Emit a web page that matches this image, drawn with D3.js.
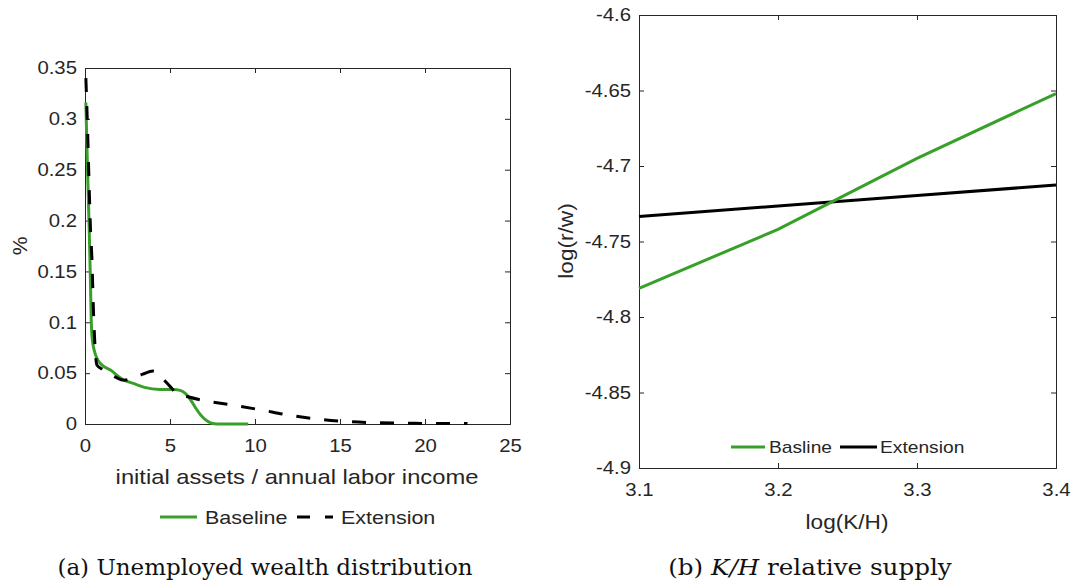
<!DOCTYPE html>
<html><head><meta charset="utf-8">
<script src="https://cdn.jsdelivr.net/npm/d3@7"></script>
<style>
body{margin:0;background:#fff;}
svg text{font-family:"Liberation Sans",Arial,sans-serif;fill:#262626;}
.cap{font-family:"DejaVu Serif","Liberation Serif",serif;fill:#111;}
</style></head>
<body><svg id="c" width="1075" height="583"></svg>
<script>
// ---------- Panel (a) data ----------
const baseX = [0.05,0.15,0.25,0.32,0.37,0.42,0.55,0.75,1.0,1.5,2.2,3.0,3.5,4.4,5.2,5.6,5.9,6.2,6.5,6.8,7.1,7.4,7.8,9.6];
const baseY = [0.316,0.25,0.19,0.14,0.10,0.085,0.072,0.063,0.058,0.053,0.044,0.039,0.036,0.034,0.034,0.033,0.030,0.024,0.016,0.009,0.004,0.001,0.0,0.0];
const extX = [0.05,0.15,0.25,0.33,0.4,0.5,0.6,0.7,1.0,1.3,1.8,2.3,2.8,3.4,4.0,4.2,4.5,5.0,5.4,6.0,7.0,8.5,10.3,11.9,13.6,15.3,17,19,20.5,22.5];
const extY = [0.340,0.29,0.23,0.188,0.165,0.11,0.073,0.058,0.054,0.051,0.046,0.043,0.045,0.049,0.052,0.051,0.046,0.037,0.030,0.027,0.023,0.019,0.014,0.009,0.005,0.0025,0.0013,0.0008,0.0005,0.0004];
const aXTicks = [0,5,10,15,20,25];
const aYTicks = [0,0.05,0.1,0.15,0.2,0.25,0.3,0.35];
// ---------- Panel (b) data ----------
const kh = [3.1,3.2,3.3,3.4];
const rwBase = [-4.781,-4.742,-4.695,-4.652];
const rwExt = [-4.7335,-4.7265,-4.7195,-4.7126];
const bXTicks = [3.1,3.2,3.3,3.4];
const bYTicks = [-4.9,-4.85,-4.8,-4.75,-4.7,-4.65,-4.6];

const GREEN = "#38a02a", AX = "#262626";
const svg = d3.select("#c");
const fmt = d => String(+d.toFixed(3));

function box(g, x, y, xt, yt){
  const [x0,x1] = x.range(), [y0,y1] = y.range();
  const tl = 5;
  const bottom = g.append("g").attr("transform",`translate(0,${y0})`)
    .call(d3.axisBottom(x).tickValues(xt).tickSize(-tl).tickPadding(15).tickFormat(fmt));
  const top = g.append("g").attr("transform",`translate(0,${y1})`)
    .call(d3.axisTop(x).tickValues(xt).tickSize(-tl).tickFormat(""));
  const left = g.append("g").attr("transform",`translate(${x0},0)`)
    .call(d3.axisLeft(y).tickValues(yt).tickSize(-tl).tickPadding(8).tickFormat(fmt));
  const right = g.append("g").attr("transform",`translate(${x1},0)`)
    .call(d3.axisRight(y).tickValues(yt).tickSize(-tl).tickFormat(""));
  [bottom,top,left,right].forEach(a=>{
    a.selectAll("path.domain").attr("stroke",AX).attr("stroke-width",1);
    a.selectAll(".tick line").attr("stroke",AX);
    a.selectAll(".tick text").attr("font-size",18).attr("fill",AX).classed("st",true)
      .style("font-family","'Liberation Sans',Arial,sans-serif");
  });
}

// ===== Panel (a) =====
const ga = svg.append("g");
const xa = d3.scaleLinear().domain([0,25]).range([85,510]);
const ya = d3.scaleLinear().domain([0,0.35]).range([424,68]);
box(ga, xa, ya, aXTicks, aYTicks);
const la = d3.line().x(d=>xa(d[0])).y(d=>ya(d[1])).curve(d3.curveMonotoneX);
ga.append("path").datum(baseX.map((v,i)=>[v,baseY[i]])).attr("d",la)
  .attr("fill","none").attr("stroke",GREEN).attr("stroke-width",3);
ga.append("path").datum(extX.map((v,i)=>[v,extY[i]])).attr("d",la)
  .attr("fill","none").attr("stroke","#000").attr("stroke-width",3).attr("stroke-dasharray","14,14");
ga.append("text").attr("class","st").attr("x",297).attr("y",484).attr("text-anchor","middle").attr("font-size",21)
  .text("initial assets / annual labor income");
ga.append("text").attr("transform","translate(27,246) rotate(-90)").attr("text-anchor","middle").attr("font-size",21).text("%");
// legend (a)
const lgA = ga.append("g");
lgA.append("line").attr("x1",160).attr("x2",197).attr("y1",517).attr("y2",517).attr("stroke",GREEN).attr("stroke-width",3);
lgA.append("text").attr("class","st").attr("x",205).attr("y",524).attr("font-size",19).attr("fill","#000").text("Baseline");
lgA.append("line").attr("x1",297).attr("x2",333).attr("y1",517).attr("y2",517).attr("stroke","#000").attr("stroke-width",3).attr("stroke-dasharray","13,15");
lgA.append("text").attr("class","st").attr("x",341).attr("y",524).attr("font-size",19).attr("fill","#000").text("Extension");
ga.append("text").attr("class","cap").attr("x",265).attr("y",575).attr("text-anchor","middle").attr("font-size",23)
  .text("(a) Unemployed wealth distribution");

// ===== Panel (b) =====
const gb = svg.append("g");
const xb = d3.scaleLinear().domain([3.1,3.4]).range([639,1056]);
const yb = d3.scaleLinear().domain([-4.9,-4.6]).range([468,15]);
box(gb, xb, yb, bXTicks, bYTicks);
const lb = d3.line().x((d)=>xb(d[0])).y(d=>yb(d[1]));
gb.append("path").datum(kh.map((v,i)=>[v,rwExt[i]])).attr("d",lb)
  .attr("fill","none").attr("stroke","#000").attr("stroke-width",3);
gb.append("path").datum(kh.map((v,i)=>[v,rwBase[i]])).attr("d",lb)
  .attr("fill","none").attr("stroke",GREEN).attr("stroke-width",3);
gb.append("text").attr("class","st").attr("x",847).attr("y",529).attr("text-anchor","middle").attr("font-size",20).text("log(K/H)");
gb.append("text").attr("class","st").attr("transform","translate(573,241) rotate(-90)").attr("text-anchor","middle").attr("font-size",20).text("log(r/w)");
const lgB = gb.append("g");
lgB.append("line").attr("x1",731).attr("x2",765).attr("y1",447).attr("y2",447).attr("stroke",GREEN).attr("stroke-width",3);
lgB.append("text").attr("class","st").attr("x",769).attr("y",453).attr("font-size",17).attr("fill","#000").text("Basline");
lgB.append("line").attr("x1",840).attr("x2",877).attr("y1",447).attr("y2",447).attr("stroke","#000").attr("stroke-width",3);
lgB.append("text").attr("class","st").attr("x",880).attr("y",453).attr("font-size",17).attr("fill","#000").text("Extension");
const capB = gb.append("text").attr("class","cap capb").attr("x",810).attr("y",575).attr("text-anchor","middle").attr("font-size",23);
capB.append("tspan").text("(b) ");
capB.append("tspan").attr("font-style","italic").text("K/H");
capB.append("tspan").text(" relative supply");

// horizontal stretch of sans text to match the reference's wide glyphs
svg.selectAll("text.st").each(function(){
  const len = this.getComputedTextLength();
  d3.select(this).attr("textLength", len*1.13).attr("lengthAdjust","spacingAndGlyphs");
});
svg.selectAll("text.capb").each(function(){
  const len = this.getComputedTextLength();
  d3.select(this).attr("textLength", len*1.07).attr("lengthAdjust","spacingAndGlyphs");
});
</script></body></html>
